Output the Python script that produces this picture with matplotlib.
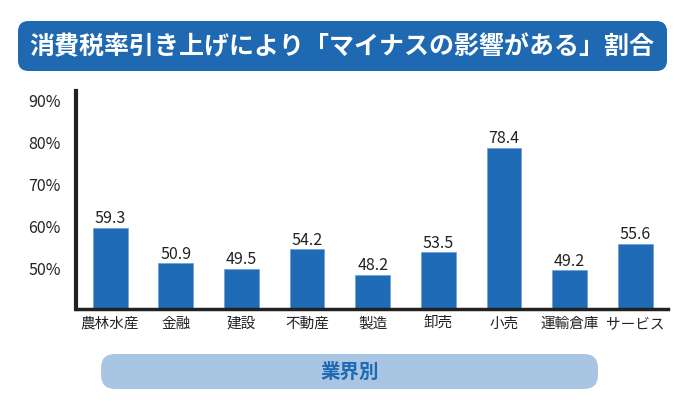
import matplotlib
matplotlib.use("Agg")
import matplotlib.pyplot as plt
from matplotlib.patches import FancyBboxPatch

plt.rcParams['font.family'] = ['Noto Sans CJK JP', 'DejaVu Sans']

categories = ["農林水産", "金融", "建設", "不動産", "製造", "卸売", "小売", "運輸倉庫", "サービス"]
values = [59.3, 50.9, 49.5, 54.2, 48.2, 53.5, 78.4, 49.2, 55.6]
yticks = [50, 60, 70, 80, 90]
ytick_labels = ["50%", "60%", "70%", "80%", "90%"]
title = "消費税率引き上げにより「マイナスの影響がある」割合"
xlabel = "業界別"

W, H = 700, 414
fig = plt.figure(figsize=(W / 100, H / 100), dpi=100)

def fx(px):
    return px / W

def fy(py):
    return 1 - py / H

# Title box
fig.patches.append(FancyBboxPatch((fx(18), fy(72)), fx(667) - fx(18), fy(22) - fy(72),
                                  boxstyle="round,pad=0,rounding_size=0.015",
                                  transform=fig.transFigure, facecolor="#1f69b3",
                                  edgecolor="none", mutation_aspect=W / H))
fig.text(fx(342), fy(47), title, color="white", fontsize=18, fontweight="bold",
         ha="center", va="center")

# Bottom label box
fig.patches.append(FancyBboxPatch((fx(101), fy(390)), fx(598) - fx(101), fy(355) - fy(390),
                                  boxstyle="round,pad=0,rounding_size=0.02",
                                  transform=fig.transFigure, facecolor="#a8c6e3",
                                  edgecolor="none", mutation_aspect=W / H))
fig.text(fx(350), fy(372.5), xlabel, color="#1f69b3", fontsize=14, fontweight="bold",
         ha="center", va="center")

ax = fig.add_axes([fx(76), fy(310), fx(668) - fx(76), fy(92) - fy(310)])
x = list(range(len(categories)))
ax.bar(x, values, width=0.53, color="#1f6bb5", edgecolor="#6fa3d6", linewidth=0.6, zorder=2)
for xi, v in zip(x, values):
    ax.text(xi, v + 0.4, f"{v}", ha="center", va="bottom", fontsize=11.5, color="#222222")

ax.set_xlim(-0.52, 8.5)
ax.set_ylim(40, 92)
ax.set_yticks(yticks)
ax.set_yticklabels(ytick_labels, fontsize=11.5, color="#222222")
ax.set_xticks(x)
ax.set_xticklabels(categories, fontsize=10.5, color="#222222")
ax.tick_params(axis="both", length=0)
ax.tick_params(axis="y", pad=11)
ax.tick_params(axis="x", pad=5)
for s in ["top", "right"]:
    ax.spines[s].set_visible(False)
ax.spines["left"].set_linewidth(3)
ax.spines["left"].set_color("#222222")
ax.spines["bottom"].set_linewidth(2.5)
ax.spines["bottom"].set_color("#222222")

fig.savefig("out.png", dpi=100)
